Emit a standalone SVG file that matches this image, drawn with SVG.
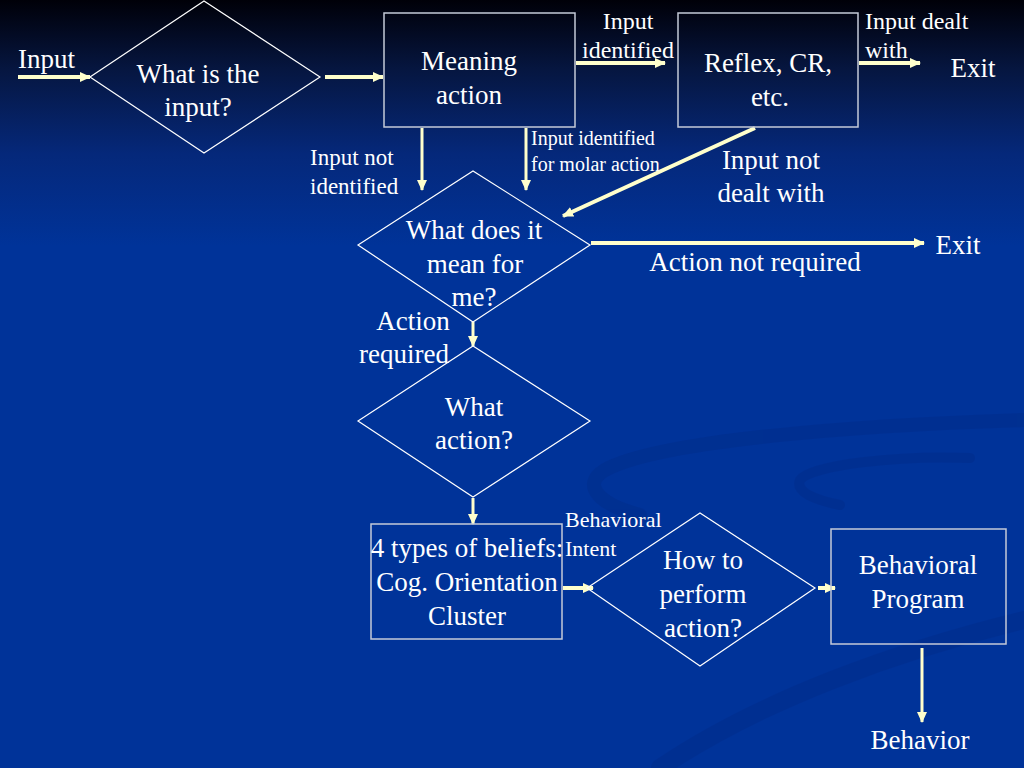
<svg xmlns="http://www.w3.org/2000/svg" width="1024" height="768" viewBox="0 0 1024 768">
<defs>
<linearGradient id="bg" x1="0" y1="0" x2="0" y2="1">
<stop offset="0" stop-color="#000008"/>
<stop offset="0.09" stop-color="#061640"/>
<stop offset="0.2" stop-color="#05287a"/>
<stop offset="0.32" stop-color="#003399"/>
<stop offset="1" stop-color="#003399"/>
</linearGradient>
<marker id="ah" markerWidth="12" markerHeight="12" refX="10" refY="6" orient="auto" markerUnits="userSpaceOnUse">
<path d="M0,1 L11,6 L0,11 Z" fill="#ffffcc"/>
</marker>
<style>
.t{font-family:"Liberation Serif","Times New Roman",serif;fill:#ffffff;text-anchor:middle}
.m{font-size:27px}
.l{font-size:24px}
.s{font-size:20px}
.st{text-anchor:start}
.box{fill:none;stroke:#c4cad8;stroke-width:1.5}
.dia{fill:none;stroke:#ffffff;stroke-width:1.2}
.ar{stroke:#ffffcc;fill:none;marker-end:url(#ah)}
.w4{stroke-width:4}
.w3{stroke-width:3}
</style>
</defs>
<rect x="0" y="0" width="1024" height="768" fill="url(#bg)"/>
<g id="swoosh" fill="none" stroke="#002a85" stroke-linecap="round" opacity="0.35">
<path d="M1024,420 C860,425 660,440 605,470 C580,485 600,505 640,515" stroke-width="14"/>
<path d="M970,458 C900,455 810,465 800,480 C795,492 815,500 840,505" stroke-width="10"/>
<path d="M1024,620 C900,650 760,700 660,768" stroke-width="18"/>
</g>
<g id="connectors">
<line class="ar w4" x1="18" y1="77" x2="90" y2="77"/>
<line class="ar w4" x1="325" y1="77" x2="383" y2="77"/>
<line class="ar w4" x1="576" y1="63" x2="665" y2="63"/>
<line class="ar w4" x1="859" y1="63" x2="920" y2="63"/>
<line class="ar w3" x1="422" y1="128" x2="422" y2="190"/>
<line class="ar w3" x1="526" y1="128" x2="526" y2="190"/>
<line class="ar w4" x1="755" y1="128" x2="563" y2="216"/>
<line class="ar w4" x1="591" y1="243" x2="924" y2="243"/>
<line class="ar w3" x1="473" y1="322" x2="473" y2="346"/>
<line class="ar w3" x1="473" y1="498" x2="473" y2="524"/>
<line class="ar w4" x1="563" y1="588" x2="593" y2="588"/>
<line class="ar w4" x1="818" y1="588" x2="835" y2="588"/>
<line class="ar w3" x1="922" y1="648" x2="922" y2="722"/>
</g>
<g id="labels">
<text class="t m st" x="18" y="68">Input</text>
<text class="t l" x="628" y="29">Input</text>
<text class="t l" x="628" y="58">identified</text>
<text class="t l st" x="865" y="29">Input dealt</text>
<text class="t l st" x="865" y="58">with</text>
<text class="t m" x="973" y="77">Exit</text>
<text class="t s st" x="310" y="165" style="font-size:23px">Input not</text>
<text class="t s st" x="310" y="194" style="font-size:23px">identified</text>
<text class="t s st" x="531" y="145">Input identified</text>
<text class="t s st" x="531" y="171">for molar action</text>
<text class="t m" x="771" y="169">Input not</text>
<text class="t m" x="771" y="202">dealt with</text>
<text class="t m" x="755" y="271">Action not required</text>
<text class="t m" x="958" y="254">Exit</text>
<text class="t m" x="413" y="330">Action</text>
<text class="t m" x="404" y="363">required</text>
<text class="t s st" x="565" y="527" style="font-size:22px">Behavioral</text>
<text class="t s st" x="565" y="556" style="font-size:22px">Intent</text>
<text class="t m" x="920" y="749">Behavior</text>
</g>
<g id="n1">
<polygon class="dia" points="90,77 204,1 320,77 204,153"/>
<text class="t m" x="198" y="83">What is the</text>
<text class="t m" x="198" y="116">input?</text>
</g>
<g id="n2">
<rect class="box" x="384" y="13" width="191" height="114"/>
<text class="t m" x="469" y="70">Meaning</text>
<text class="t m" x="469" y="104">action</text>
</g>
<g id="n3">
<rect class="box" x="678" y="13" width="180" height="114"/>
<text class="t m" x="768" y="72">Reflex, CR,</text>
<text class="t m" x="770" y="106">etc.</text>
</g>
<g id="n4">
<polygon class="dia" points="358,245 473,171 590,245 473,322"/>
<text class="t m" x="474" y="239">What does it</text>
<text class="t m" x="475" y="273">mean for</text>
<text class="t m" x="474" y="306">me?</text>
</g>
<g id="n5">
<polygon class="dia" points="358,421 473,346 590,421 473,497"/>
<text class="t m" x="474" y="416">What</text>
<text class="t m" x="474" y="449">action?</text>
</g>
<g id="n6">
<rect class="box" x="371" y="524" width="191" height="115"/>
<text class="t m" x="467" y="557">4 types of  beliefs:</text>
<text class="t m" x="467" y="591">Cog. Orientation</text>
<text class="t m" x="467" y="625">Cluster</text>
</g>
<g id="n7">
<polygon class="dia" points="587,588 700,513 815,588 700,666"/>
<text class="t m" x="703" y="569">How to</text>
<text class="t m" x="703" y="603">perform</text>
<text class="t m" x="703" y="637">action?</text>
</g>
<g id="n8">
<rect class="box" x="831" y="529" width="175" height="115"/>
<text class="t m" x="918" y="574">Behavioral</text>
<text class="t m" x="918" y="608">Program</text>
</g>
</svg>
